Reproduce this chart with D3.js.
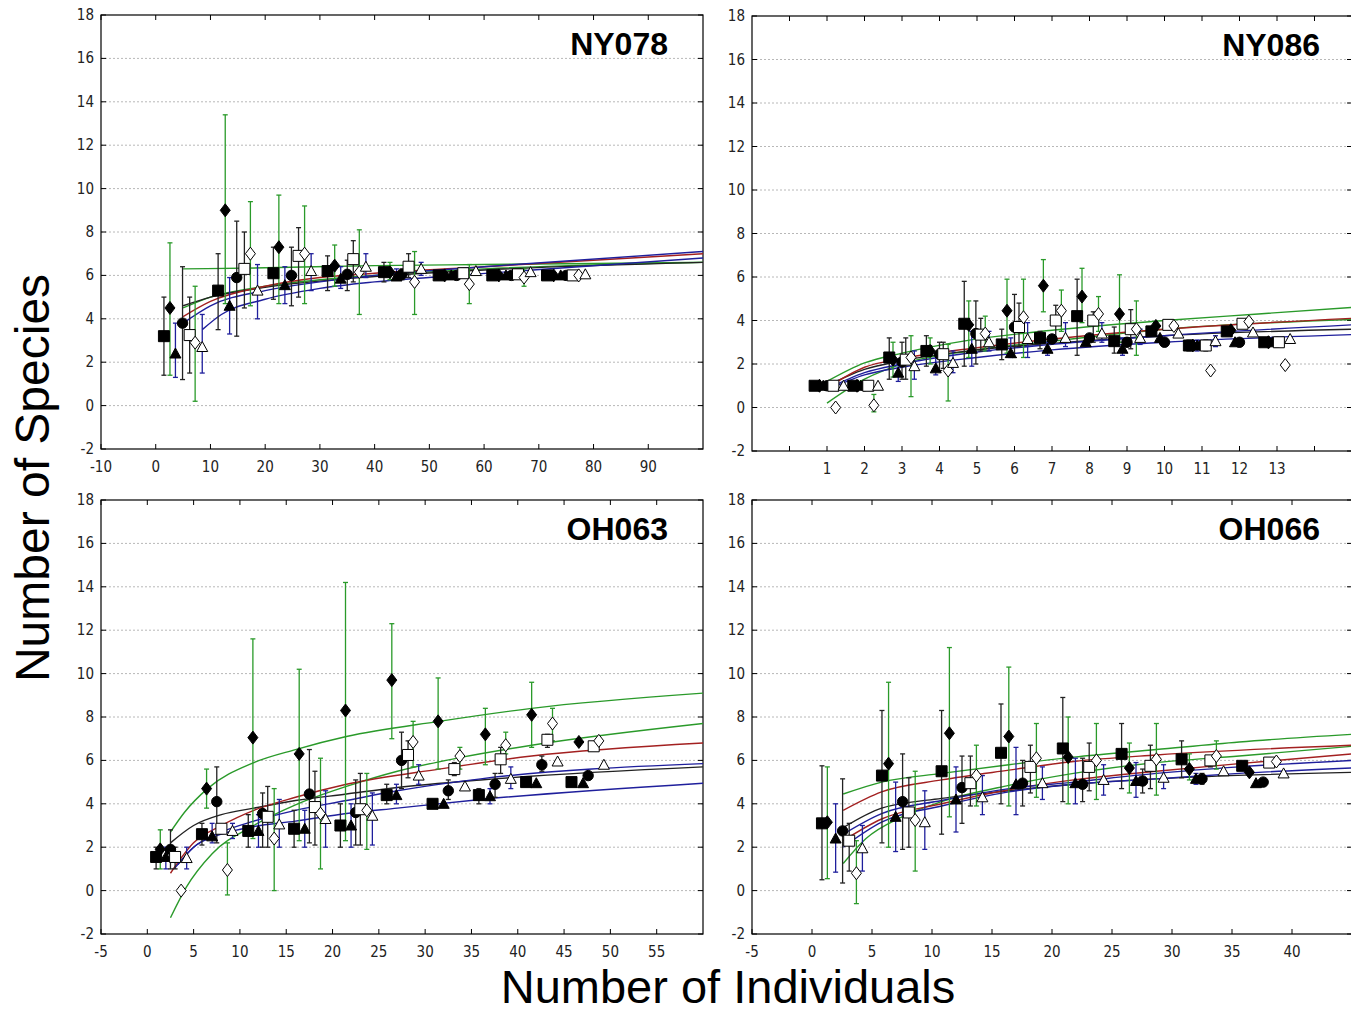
<!DOCTYPE html>
<html>
<head>
<meta charset="utf-8">
<script src="https://cdn.jsdelivr.net/npm/d3@7"></script>
<style>
  body { margin: 0; background: #fff; }
  svg { display: block; }
</style>
</head>
<body>
<svg id="chart"></svg>
<script>
// ---- data: [x, y, lowerBar, upperBar] ----
// A filled square, B filled diamond, C filled triangle, D filled circle,
// E open square, F open diamond, G open triangle
const ny078_A = [[1.5,3.2,1.4,5.0],[11.4,5.3,3.5,7.0],[21.5,6.1,4.9,7.3],[31.4,6.2,5.3,6.9],[41.7,6.15,5.7,6.6],[51.7,6.0,6,6],[61.5,6.0,6,6],[71.5,6.0,6,6]];
const ny078_B = [[2.6,4.5,1.4,7.5],[12.7,9.0,4.7,13.4],[22.5,7.3,4.7,9.7],[32.7,6.45,5.5,7.4],[42.8,6.15,5.8,6.6],[52.8,6.0,6,6],[62.7,6.0,6,6],[72.7,6.0,6,6]];
const ny078_C = [[3.6,2.4,1.3,3.8],[13.5,4.6,3.3,5.9],[23.6,5.55,4.7,6.4],[33.8,5.85,5.4,6.4],[44.0,5.95,5.8,6.3],[54,6.0,6,6],[64,6.0,6,6],[74,6.0,6,6]];
const ny078_D = [[4.9,3.8,1.2,6.4],[14.8,5.9,3.2,8.5],[24.8,6.0,4.6,7.3],[35.0,6.05,5.3,6.7],[45.0,6.05,5.8,6.3],[55,6.0,6,6],[65,6.0,6,6],[75,6.0,6,6]];
const ny078_E = [[6.2,3.25,1.5,5.0],[16.2,6.3,4.5,8.0],[26.1,6.9,5.0,8.2],[36.1,6.75,5.7,7.6],[46.2,6.4,5.9,7.0],[56.2,6.1,5.9,6.3],[66.2,6.05,6,6.1],[76.2,6.0,6,6]];
const ny078_F = [[7.2,2.9,0.2,5.5],[17.3,7.0,4.6,9.4],[27.2,7.0,4.7,9.2],[37.2,6.15,4.2,8.1],[47.3,5.7,4.2,7.1],[57.3,5.6,4.7,6.5],[67.3,5.9,5.5,6.3],[77.3,6.0,6,6]];
const ny078_G = [[8.5,2.7,1.5,4.2],[18.6,5.3,4.0,6.5],[28.4,6.2,5.3,7.0],[38.4,6.4,5.9,7.0],[48.5,6.3,6.0,6.6],[58.5,6.2,6.2,6.2],[68.5,6.15,6.15,6.15],[78.5,6.05,6.05,6.05]];

const ny086_A = [[0.67,1,1,1],[1.7,1,1,1],[2.66,2.3,1.3,3.2],[3.65,2.6,1.9,3.3],[4.66,3.85,1.9,5.8],[5.66,2.9,2.2,3.6],[6.68,3.2,2.7,3.5],[7.67,4.2,2.4,5.9],[8.66,3.05,2.5,3.7],[9.65,3.5,3.5,3.5],[10.65,2.85,2.6,3.1],[11.66,3.5,3.5,3.5],[12.66,3.0,3,3]];
const ny086_B = [[0.8,1,1,1],[1.8,1,1,1],[2.76,2.2,1.4,3.0],[3.75,2.6,2.0,3.2],[4.78,3.8,2.3,4.9],[5.8,4.45,2.5,5.9],[6.77,5.6,4.4,6.8],[7.8,5.1,3.9,6.4],[8.8,4.3,3.0,6.1],[9.77,3.75,3.75,3.75],[10.75,2.85,2.85,2.85],[11.77,3.55,3.55,3.55],[12.77,3.0,3,3]];
const ny086_C = [[0.9,1,1,1],[1.9,1,1,1],[2.9,1.6,1.2,2.0],[3.9,1.8,1.5,2.5],[4.86,2.7,1.9,3.5],[5.9,2.5,2.3,3.2],[6.88,2.7,2.4,3.0],[7.9,3.0,3,3],[8.88,2.7,2.4,3.2],[9.88,3.2,3.2,3.2],[10.87,2.85,2.6,3.1],[11.88,3.0,3,3],[12.88,3.0,3,3]];
const ny086_D = [[1.0,1,1,1],[2.0,1,1,1],[3.0,2.1,1.3,3.0],[4.0,2.45,1.7,3.0],[4.97,3.4,2.0,4.9],[6.0,3.7,2.3,5.2],[7.0,3.15,3.15,3.15],[8.0,3.2,3.2,3.2],[9.0,3.0,3,3],[10.0,3.0,3,3],[11.0,2.85,2.85,2.85],[12.0,3.0,3,3],[13.0,3.0,3,3]];
const ny086_E = [[1.17,1,1,1],[2.1,1,1,1],[3.1,2.2,1.3,3.2],[4.1,2.45,1.8,3.0],[5.1,3.35,2.6,4.1],[6.12,3.7,2.8,4.8],[7.1,4.0,3.1,4.7],[8.1,4.0,3.0,4.4],[9.1,3.6,2.7,4.5],[10.1,3.8,3.8,3.8],[11.1,2.85,2.6,3.1],[12.08,3.85,3.85,3.85],[13.05,3.0,3,3]];
const ny086_F = [[1.23,0,0,0],[2.25,0.1,-0.2,0.6],[3.24,2.3,0.5,3.3],[4.23,1.7,0.3,2.9],[5.22,3.4,2.6,4.2],[6.24,4.15,2.3,5.9],[7.25,4.45,3.5,5.4],[8.24,4.3,3.5,5.1],[9.25,3.6,2.4,4.9],[10.25,3.75,3.75,3.75],[11.23,1.7,1.7,1.7],[12.25,3.95,3.95,3.95],[13.22,1.95,1.95,1.95]];
const ny086_G = [[1.44,1,1,1],[2.36,1,1,1],[3.33,1.9,1.3,2.6],[4.36,2.05,1.6,2.6],[5.32,3.0,2.6,3.5],[6.35,3.15,2.3,3.9],[7.36,3.2,2.8,3.9],[8.33,3.4,3.0,3.9],[9.35,3.2,2.9,3.6],[10.37,3.4,3.4,3.4],[11.36,3.05,2.8,3.3],[12.36,3.45,3.45,3.45],[13.35,3.15,3.15,3.15]];

const oh063_A = [[0.95,1.55,1.0,2.0],[5.9,2.6,2.1,3.1],[10.9,2.75,2.0,3.5],[15.85,2.85,2.0,3.7],[20.85,3.0,2.0,4.0],[25.85,4.4,4.0,4.9],[30.8,4.0,4,4],[35.8,4.4,4.0,4.7],[40.9,5.0,5,5],[45.8,5.0,5,5]];
const oh063_B = [[1.4,1.9,1.0,2.8],[6.4,4.7,3.8,5.6],[11.4,7.05,2.4,11.6],[16.4,6.3,2.3,10.2],[21.4,8.3,2.3,14.2],[26.4,9.7,7.0,12.3],[31.4,7.8,5.6,9.8],[36.5,7.2,5.8,8.4],[41.5,8.1,6.6,9.6],[46.6,6.85,6.85,6.85]];
const oh063_C = [[2.0,1.55,1.0,2.0],[7.0,2.5,2.2,3.1],[12.0,2.75,2.0,3.5],[17.0,2.85,2.0,3.7],[22.0,3.0,2.0,4.0],[26.9,4.4,4.0,4.9],[32.0,4.0,4,4],[37.0,4.35,4.0,4.7],[42.0,4.95,4.95,4.95],[47.05,4.95,4.95,4.95]];
const oh063_D = [[2.5,1.9,1.0,2.8],[7.5,4.1,2.2,5.7],[12.45,3.55,2.0,4.5],[17.5,4.45,2.2,6.5],[22.5,3.6,2.1,5.1],[27.45,6.0,4.7,7.3],[32.5,4.6,4.2,5.1],[37.55,4.9,4.3,5.4],[42.6,5.8,5.5,6.2],[47.6,5.3,5.3,5.3]];
const oh063_E = [[3.0,1.55,1.0,2.0],[8.0,2.85,2.85,2.85],[13.0,3.4,2.0,4.8],[18.1,3.85,2.1,5.5],[23.0,3.75,2.1,5.4],[28.15,6.25,5.2,6.9],[33.15,5.6,5.3,5.9],[38.15,6.05,5.4,6.6],[43.2,6.95,6.6,7.2],[48.2,6.65,6.65,6.65]];
const oh063_F = [[3.65,0.0,0,0],[8.65,0.95,-0.2,2.2],[13.7,2.4,0.0,4.7],[18.7,3.55,1.0,6.1],[23.7,3.7,1.9,5.4],[28.7,6.85,5.7,7.8],[33.75,6.2,5.6,6.6],[38.7,6.7,6.3,7.3],[43.75,7.7,6.9,8.4],[48.75,6.9,6.9,6.9]];
const oh063_G = [[4.25,1.5,1.0,2.0],[9.2,2.75,2.4,3.1],[14.25,3.05,2.0,4.2],[19.25,3.3,2.0,4.6],[24.3,3.45,2.1,4.5],[29.3,5.3,4.9,5.8],[34.3,4.8,4.8,4.8],[39.25,5.15,4.7,5.7],[44.3,5.95,5.95,5.95],[49.3,5.8,5.8,5.8]];

const oh066_A = [[0.83,3.1,0.5,5.75],[5.83,5.3,2.2,8.3],[10.8,5.5,2.6,8.3],[15.75,6.35,4.0,8.6],[20.9,6.55,4.1,8.9],[25.8,6.3,4.7,7.7],[30.8,6.05,5.2,6.9],[35.85,5.75,5.75,5.75]];
const oh066_B = [[1.28,3.15,0.55,5.7],[6.38,5.85,2.0,9.6],[11.45,7.25,3.4,11.2],[16.4,7.1,3.9,10.3],[21.35,6.15,4.0,8.0],[26.45,5.65,4.5,6.8],[31.45,5.6,5.1,6.3],[36.45,5.45,5.45,5.45]];
const oh066_C = [[1.97,2.4,0.85,4.0],[6.97,3.4,1.8,5.0],[12.0,4.2,2.7,5.7],[17.0,4.9,3.5,6.6],[21.95,4.95,4.0,6.1],[27.0,5.05,4.3,5.9],[32.0,5.15,4.9,5.4],[37.0,4.95,4.95,4.95]];
const oh066_D = [[2.55,2.75,0.35,5.15],[7.55,4.1,1.9,6.3],[12.5,4.75,3.1,6.2],[17.55,4.95,3.9,6.0],[22.55,4.9,4.1,6.1],[27.55,5.05,4.5,5.6],[32.5,5.15,4.9,5.4],[37.6,5.0,5,5]];
const oh066_E = [[3.1,2.3,0.9,3.1],[8.07,3.6,2.0,5.2],[13.2,4.95,3.9,6.2],[18.2,5.7,4.5,6.7],[23.1,5.7,4.6,6.8],[28.2,5.75,4.7,6.7],[33.2,6.0,5.7,6.2],[38.1,5.9,5.9,5.9]];
const oh066_F = [[3.7,0.8,-0.6,2.3],[8.6,3.25,0.9,5.5],[13.7,5.3,3.9,6.7],[18.7,6.1,4.3,7.7],[23.7,6.0,4.2,7.7],[28.7,6.05,4.4,7.7],[33.7,6.2,5.6,6.9],[38.7,5.95,5.95,5.95]];
const oh066_G = [[4.2,1.95,0.9,3.0],[9.4,3.15,1.9,4.6],[14.2,4.3,3.5,5.3],[19.2,4.95,4.2,5.7],[24.3,5.1,4.4,5.8],[29.3,5.2,4.7,5.8],[34.3,5.5,5.5,5.5],[39.3,5.4,5.4,5.4]];

// ---- fitted curves, points: [x, y] ----
const ny078_green1 = [[5,6.3],[20,6.35],[40,6.45],[60,6.5],[80,6.55],[100,6.6]];
const ny078_green2 = [[5,4.5],[10,5.0],[20,5.5],[30,5.8],[40,6.0],[60,6.3],[100,6.6]];
const ny078_red    = [[5,4.1],[10,4.8],[20,5.5],[30,5.9],[40,6.1],[60,6.4],[80,6.7],[100,7.0]];
const ny078_black  = [[5,4.6],[10,5.0],[20,5.45],[40,5.95],[60,6.25],[100,6.6]];
const ny078_blue1  = [[5,3.8],[10,4.6],[20,5.3],[30,5.7],[40,6.0],[60,6.4],[100,7.1]];
const ny078_blue2  = [[8.5,3.5],[12,4.2],[20,4.9],[30,5.4],[40,5.7],[55,6.0],[100,6.8]];

const ny086_green1 = [[1,1.2],[2,2.05],[3,2.5],[4.8,3.1],[7,3.55],[10,4.0],[12.5,4.3],[15,4.6]];
const ny086_green2 = [[1,0.2],[2,1.3],[3.1,2.05],[4.8,2.6],[7,3.05],[10,3.6],[15,4.05]];
const ny086_red    = [[1,0.9],[2,1.85],[3,2.25],[5,2.75],[7,3.15],[10,3.6],[15,4.1]];
const ny086_black  = [[1,1.0],[2,1.75],[3,2.15],[5,2.65],[7,2.95],[10,3.3],[15,3.6]];
const ny086_blue1  = [[1,0.85],[2,1.6],[3,2.0],[5,2.55],[7,2.9],[10,3.3],[15,3.8]];
const ny086_blue2  = [[1,0.8],[2,1.5],[3,1.85],[5,2.3],[7,2.65],[10,3.0],[15,3.35]];

const oh063_green1 = [[2.5,2.7],[4,3.6],[6.5,4.7],[11.5,5.9],[16,6.5],[21.5,7.1],[31.5,7.8],[41.5,8.4],[60,9.1]];
const oh063_green2 = [[2.5,-1.25],[4.2,0.15],[7,1.7],[11.5,3.0],[16,3.95],[21.5,4.8],[27,5.5],[34,6.15],[41.5,6.7],[60,7.7]];
const oh063_red    = [[2.5,0.8],[5,2.2],[8,3.0],[11.5,3.7],[16,4.3],[21.5,4.9],[31.5,5.6],[41.5,6.2],[60,6.8]];
const oh063_black  = [[2.5,2.2],[5,3.0],[8,3.5],[11.5,3.8],[16,4.15],[21.5,4.45],[27,4.75],[36,5.1],[60,5.7]];
const oh063_blue1  = [[2.9,1.0],[5,2.0],[8,2.7],[11.5,3.2],[16,3.7],[21.5,4.15],[27,4.6],[36,5.15],[60,5.85]];
const oh063_blue2  = [[3.3,1.2],[5,2.0],[8,2.6],[11.5,2.95],[16,3.2],[21.5,3.55],[27,3.8],[36,4.2],[60,4.95]];

const oh066_green1 = [[2.6,4.45],[5.8,5.0],[10.8,5.4],[16.4,5.8],[21.8,6.15],[28.7,6.5],[35.6,6.85],[45,7.2]];
const oh066_green2 = [[2.6,1.25],[4.5,2.4],[7.5,3.4],[10.8,4.1],[16.4,4.85],[21.8,5.4],[28.7,5.9],[35.6,6.2],[45,6.65]];
const oh066_red1   = [[2.6,3.7],[5.8,4.55],[10.8,5.1],[16.4,5.55],[21.8,5.95],[28.7,6.25],[45,6.7]];
const oh066_red2   = [[2.6,2.3],[5.8,3.3],[10.8,4.0],[16.4,4.65],[21.8,5.1],[28.7,5.5],[35.6,5.85],[45,6.3]];
const oh066_black  = [[2.6,2.9],[5.8,3.8],[10.8,4.25],[16.4,4.6],[21.8,4.9],[28.7,5.15],[45,5.45]];
const oh066_blue1  = [[2.6,2.6],[5.8,3.55],[10.8,4.15],[16.4,4.7],[21.8,5.0],[28.7,5.4],[35.6,5.7],[45,6.0]];
const oh066_blue2  = [[2.6,2.0],[5.8,3.15],[10.8,3.9],[16.4,4.55],[21.8,4.9],[28.7,5.15],[35.6,5.4],[45,5.65]];

// ---- axis ticks ----
const yTicks = [-2,0,2,4,6,8,10,12,14,16,18];
const ny078_xTicks = [-10,0,10,20,30,40,50,60,70,80,90];
const ny086_xTicks = [0,1,2,3,4,5,6,7,8,9,10,11,12,13,14];
const ny086_xLabels = [1,2,3,4,5,6,7,8,9,10,11,12,13];
const oh063_xTicks = [-5,0,5,10,15,20,25,30,35,40,45,50,55];
const oh066_xTicks = [-5,0,5,10,15,20,25,30,35,40];

// ---- styles ----
const col = { black: "#222", green: "#2a9a2a", blue: "#1f1f9c", red: "#a32020" };
const seriesStyle = {
  A: { shape: "square",   fill: "#000", bar: col.black },
  B: { shape: "diamond",  fill: "#000", bar: col.green },
  C: { shape: "triangle", fill: "#000", bar: col.blue },
  D: { shape: "circle",   fill: "#000", bar: col.black },
  E: { shape: "square",   fill: "#fff", bar: col.black },
  F: { shape: "diamond",  fill: "#fff", bar: col.green },
  G: { shape: "triangle", fill: "#fff", bar: col.blue }
};

const panels = [
  { name: "NY078", box: { l: 101, r: 703, t: 15, b: 449 }, xDomain: [-10, 100],
    xTicks: ny078_xTicks, xLabels: ny078_xTicks,
    series: { A: ny078_A, B: ny078_B, C: ny078_C, D: ny078_D, E: ny078_E, F: ny078_F, G: ny078_G },
    curves: [[ny078_green1, col.green],[ny078_green2, col.green],[ny078_black, col.black],[ny078_red, col.red],[ny078_blue1, col.blue],[ny078_blue2, col.blue]] },
  { name: "NY086", box: { l: 752, r: 1352, t: 16, b: 451 }, xDomain: [-1, 15],
    xTicks: ny086_xTicks, xLabels: ny086_xLabels,
    series: { A: ny086_A, B: ny086_B, C: ny086_C, D: ny086_D, E: ny086_E, F: ny086_F, G: ny086_G },
    curves: [[ny086_green1, col.green],[ny086_green2, col.green],[ny086_black, col.black],[ny086_red, col.red],[ny086_blue1, col.blue],[ny086_blue2, col.blue]] },
  { name: "OH063", box: { l: 101, r: 703, t: 500, b: 934 }, xDomain: [-5, 60],
    xTicks: oh063_xTicks, xLabels: oh063_xTicks,
    series: { A: oh063_A, B: oh063_B, C: oh063_C, D: oh063_D, E: oh063_E, F: oh063_F, G: oh063_G },
    curves: [[oh063_green1, col.green],[oh063_green2, col.green],[oh063_black, col.black],[oh063_red, col.red],[oh063_blue1, col.blue],[oh063_blue2, col.blue]] },
  { name: "OH066", box: { l: 752, r: 1352, t: 500, b: 934 }, xDomain: [-5, 45],
    xTicks: oh066_xTicks, xLabels: oh066_xTicks,
    series: { A: oh066_A, B: oh066_B, C: oh066_C, D: oh066_D, E: oh066_E, F: oh066_F, G: oh066_G },
    curves: [[oh066_green1, col.green],[oh066_green2, col.green],[oh066_black, col.black],[oh066_red1, col.red],[oh066_red2, col.red],[oh066_blue1, col.blue],[oh066_blue2, col.blue]] }
];

const W = 1351, H = 1014;
const tickFont = "'Liberation Sans Narrow', 'Arial Narrow', 'DejaVu Sans Condensed', sans-serif";

const svg = d3.select("#chart").attr("width", W).attr("height", H);

// marker path, centred on 0,0
function markerPath(shape) {
  if (shape === "square") return "M-5.5,-5.5H5.5V5.5H-5.5Z";
  if (shape === "diamond") return "M0,-6.5L5,0L0,6.5L-5,0Z";
  if (shape === "triangle") return "M0,-5.5L5.5,4.5H-5.5Z";
  return d3.symbol(d3.symbolCircle, 85)();
}

panels.forEach((p, pi) => {
  const x = d3.scaleLinear().domain(p.xDomain).range([p.box.l, p.box.r]);
  const y = d3.scaleLinear().domain([-2, 18]).range([p.box.b, p.box.t]);
  const g = svg.append("g");

  const clipId = "clip" + pi;
  svg.append("defs").append("clipPath").attr("id", clipId)
    .append("rect").attr("x", p.box.l).attr("y", p.box.t)
    .attr("width", p.box.r - p.box.l).attr("height", p.box.b - p.box.t);

  // dotted grid lines
  g.selectAll(".grid").data(yTicks.filter(v => v > -2 && v < 18)).enter()
    .append("line")
    .attr("x1", p.box.l).attr("x2", p.box.r)
    .attr("y1", d => y(d)).attr("y2", d => y(d))
    .attr("stroke", "#b8b8b8").attr("stroke-width", 1)
    .attr("stroke-dasharray", "2,2");

  // inner ticks on all four sides
  const tl = 5;
  p.xTicks.forEach(v => {
    g.append("line").attr("x1", x(v)).attr("x2", x(v)).attr("y1", p.box.b).attr("y2", p.box.b - tl).attr("stroke", "#000");
    g.append("line").attr("x1", x(v)).attr("x2", x(v)).attr("y1", p.box.t).attr("y2", p.box.t + tl).attr("stroke", "#000");
  });
  yTicks.forEach(v => {
    g.append("line").attr("x1", p.box.l).attr("x2", p.box.l + tl).attr("y1", y(v)).attr("y2", y(v)).attr("stroke", "#000");
    g.append("line").attr("x1", p.box.r).attr("x2", p.box.r - tl).attr("y1", y(v)).attr("y2", y(v)).attr("stroke", "#000");
  });

  // tick labels
  g.selectAll(".ylab").data(yTicks).enter().append("text")
    .attr("x", p.box.l - 7).attr("y", d => y(d) + 5)
    .attr("text-anchor", "end")
    .style("font-family", tickFont).style("font-size", "15px").style("fill", "#222")
    .text(d => d);
  g.selectAll(".xlab").data(p.xLabels).enter().append("text")
    .attr("x", d => x(d)).attr("y", p.box.b + 23)
    .attr("text-anchor", "middle")
    .style("font-family", tickFont).style("font-size", "15px").style("fill", "#222")
    .text(d => d);

  // frame
  g.append("rect")
    .attr("x", p.box.l).attr("y", p.box.t)
    .attr("width", p.box.r - p.box.l).attr("height", p.box.b - p.box.t)
    .attr("fill", "none").attr("stroke", "#000").attr("stroke-width", 1.2);

  // fitted curves
  const line = d3.line().x(d => x(d[0])).y(d => y(d[1])).curve(d3.curveMonotoneX);
  const cg = g.append("g").attr("clip-path", `url(#${clipId})`);
  p.curves.forEach(([pts, c]) => {
    cg.append("path").attr("d", line(pts))
      .attr("fill", "none").attr("stroke", c).attr("stroke-width", 1.4);
  });

  // error bars
  Object.keys(p.series).forEach(k => {
    const st = seriesStyle[k];
    const pts = p.series[k].filter(d => d[3] - d[2] > 0.05);
    const eb = cg.append("g").attr("stroke", st.bar).attr("stroke-width", 1.3);
    pts.forEach(d => {
      eb.append("line").attr("x1", x(d[0])).attr("x2", x(d[0])).attr("y1", y(d[2])).attr("y2", y(d[3]));
      eb.append("line").attr("x1", x(d[0]) - 2.5).attr("x2", x(d[0]) + 2.5).attr("y1", y(d[2])).attr("y2", y(d[2]));
      eb.append("line").attr("x1", x(d[0]) - 2.5).attr("x2", x(d[0]) + 2.5).attr("y1", y(d[3])).attr("y2", y(d[3]));
    });
  });

  // markers
  Object.keys(p.series).forEach(k => {
    const st = seriesStyle[k];
    cg.selectAll(".m" + k).data(p.series[k]).enter().append("path")
      .attr("d", markerPath(st.shape))
      .attr("transform", d => `translate(${x(d[0])},${y(d[1])})`)
      .attr("fill", st.fill).attr("stroke", "#000").attr("stroke-width", 1);
  });

  // panel title
  g.append("text")
    .attr("x", (p.box.r > 1000 ? 1320 : 668)).attr("y", p.box.t + 40)
    .attr("text-anchor", "end")
    .style("font-family", "'Liberation Sans', Arial, sans-serif")
    .style("font-weight", "bold").style("font-size", "32px")
    .text(p.name);
});

// axis titles
svg.append("text")
  .attr("transform", "translate(49,478) rotate(-90)")
  .attr("text-anchor", "middle")
  .style("font-family", "'Liberation Sans', Arial, sans-serif")
  .style("font-size", "48px")
  .text("Number of Species");

svg.append("text")
  .attr("x", 728).attr("y", 1003)
  .attr("text-anchor", "middle")
  .style("font-family", "'Liberation Sans', Arial, sans-serif")
  .style("font-size", "47px")
  .text("Number of Individuals");
</script>
</body>
</html>
